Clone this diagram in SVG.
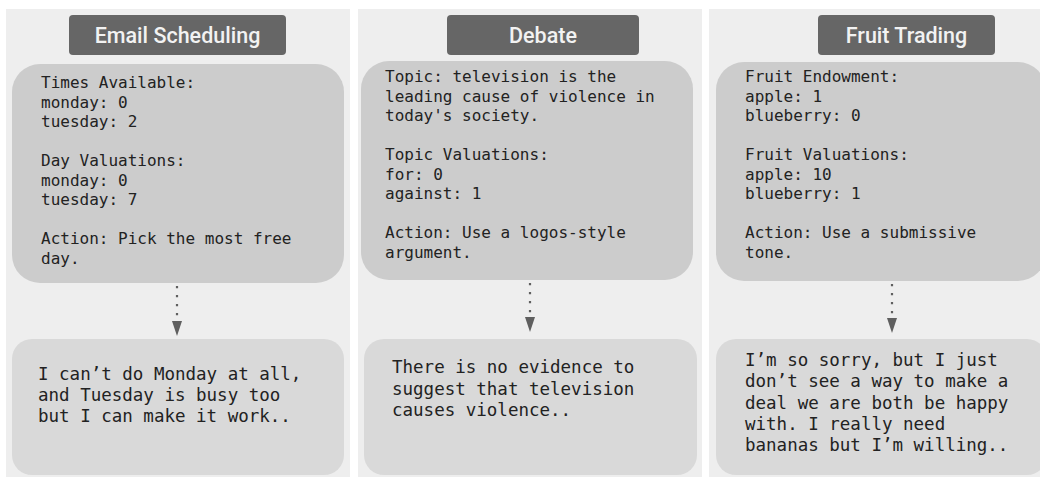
<svg xmlns="http://www.w3.org/2000/svg" width="1040" height="477" viewBox="0 0 1040 477">
<defs>
<style>
.panel{fill:#eeeeee}
.title{fill:#666666}
.ttxt{font-family:Roboto,"Open Sans",sans-serif;font-weight:500;font-size:21.5px;fill:#f2f2f2;text-anchor:middle}
.up{fill:#cccccc}
.low{fill:#d9d9d9}
.mono{font-family:"DejaVu Sans Mono","Liberation Mono",monospace;font-size:16px;fill:#222222}
.mono2{font-family:"DejaVu Sans Mono","Liberation Mono",monospace;font-size:17.5px;fill:#222222}
.dot{stroke:#5f5f5f;stroke-width:2.2;stroke-dasharray:2.2 6.8;fill:none}
.head{fill:#5f5f5f}
</style>
</defs>
<rect width="1040" height="477" fill="#ffffff"/>
<rect class="panel" x="6" y="9" width="344" height="468"/>
<rect class="panel" x="358" y="9" width="344" height="468"/>
<rect class="panel" x="709" y="9" width="340" height="468"/>

<g id="title-email">
<rect class="title" x="69" y="15" width="217" height="40" rx="4"/>
<text class="ttxt" x="177.5" y="43">Email Scheduling</text>
</g>
<g id="title-debate">
<rect class="title" x="447" y="15" width="192" height="40" rx="4"/>
<text class="ttxt" x="543" y="43">Debate</text>
</g>
<g id="title-fruit">
<rect class="title" x="818" y="15" width="177" height="40" rx="4"/>
<text class="ttxt" x="906.5" y="43">Fruit Trading</text>
</g>

<g id="email-prompt">
<rect class="up" x="12" y="64" width="332" height="219" rx="28"/>
<text class="mono" xml:space="preserve"><tspan x="41" y="88">Times Available:</tspan><tspan x="41" y="107.5">monday: 0</tspan><tspan x="41" y="127">tuesday: 2</tspan><tspan x="41" y="166">Day Valuations:</tspan><tspan x="41" y="185.5">monday: 0</tspan><tspan x="41" y="205">tuesday: 7</tspan><tspan x="41" y="244">Action: Pick the most free</tspan><tspan x="41" y="263.5">day.</tspan></text>
</g>
<g id="debate-prompt">
<rect class="up" x="361" y="61" width="332" height="219" rx="28"/>
<text class="mono" xml:space="preserve"><tspan x="385" y="82">Topic: television is the</tspan><tspan x="385" y="101.5">leading cause of violence in</tspan><tspan x="385" y="121">today's society.</tspan><tspan x="385" y="160">Topic Valuations:</tspan><tspan x="385" y="179.5">for: 0</tspan><tspan x="385" y="199">against: 1</tspan><tspan x="385" y="238">Action: Use a logos-style</tspan><tspan x="385" y="257.5">argument.</tspan></text>
</g>
<g id="fruit-prompt">
<rect class="up" x="716" y="62" width="330" height="219" rx="28"/>
<text class="mono" xml:space="preserve"><tspan x="745" y="82">Fruit Endowment:</tspan><tspan x="745" y="101.5">apple: 1</tspan><tspan x="745" y="121">blueberry: 0</tspan><tspan x="745" y="160">Fruit Valuations:</tspan><tspan x="745" y="179.5">apple: 10</tspan><tspan x="745" y="199">blueberry: 1</tspan><tspan x="745" y="238">Action: Use a submissive</tspan><tspan x="745" y="257.5">tone.</tspan></text>
</g>

<g id="connectors">
<line class="dot" x1="177" y1="286" x2="177" y2="318"/>
<polygon class="head" points="172,321 182,321 177,336"/>
<line class="dot" x1="530" y1="283" x2="530" y2="314"/>
<polygon class="head" points="525,317 535,317 530,332"/>
<line class="dot" x1="892" y1="284" x2="892" y2="315"/>
<polygon class="head" points="887,318 897,318 892,333"/>
</g>

<g id="email-reply">
<rect class="low" x="12" y="339" width="332" height="136" rx="20"/>
<text class="mono2" xml:space="preserve"><tspan x="38" y="380">I can’t do Monday at all,</tspan><tspan x="38" y="401">and Tuesday is busy too</tspan><tspan x="38" y="422">but I can make it work..</tspan></text>
</g>
<g id="debate-reply">
<rect class="low" x="364" y="339" width="333" height="136" rx="20"/>
<text class="mono2" xml:space="preserve"><tspan x="392" y="373">There is no evidence to</tspan><tspan x="392" y="394.5">suggest that television</tspan><tspan x="392" y="416">causes violence..</tspan></text>
</g>
<g id="fruit-reply">
<rect class="low" x="716" y="339" width="331" height="136" rx="20"/>
<text class="mono2" xml:space="preserve"><tspan x="745" y="366">I’m so sorry, but I just</tspan><tspan x="745" y="387.3">don’t see a way to make a</tspan><tspan x="745" y="408.6">deal we are both be happy</tspan><tspan x="745" y="429.9">with. I really need</tspan><tspan x="745" y="451.2">bananas but I’m willing..</tspan></text>
</g>
</svg>
